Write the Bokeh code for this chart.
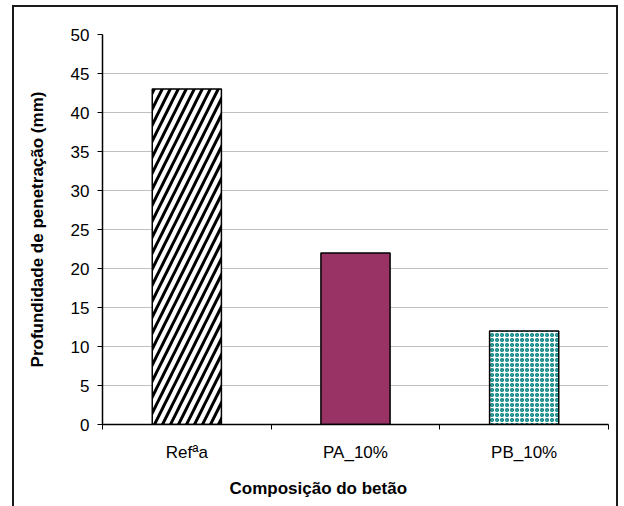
from bokeh.plotting import figure
from bokeh.models import FixedTicker, Range1d, Title
from bokeh.embed import file_html
from bokeh.resources import INLINE

# Penetration depth by concrete mix
categories = ["Refªa", "PA_10%", "PB_10%"]
depth_mm = [43, 22, 12]
y_ticks = [0, 5, 10, 15, 20, 25, 30, 35, 40, 45, 50]

FONT = "Liberation Sans"

p = figure(width=606, height=503, output_backend="svg", toolbar_location=None,
           x_range=Range1d(0, len(categories)), y_range=Range1d(0, 50),
           min_border_left=88, min_border_right=12, min_border_top=27, min_border_bottom=85)
p.styles = {"margin-left": "12px", "margin-top": "5px", "border": "2px solid #1a1a1a"}
p.outline_line_color = None
p.background_fill_color = "white"

xs = [i + 0.5 for i in range(len(categories))]

# Ref: black diagonal stripes
p.vbar(x=xs[0:1], top=depth_mm[0:1], width=0.41, fill_color="white",
       line_color="black", line_width=1.5, hatch_pattern="/",
       hatch_color="black", hatch_scale=16, hatch_weight=3)
# PA: solid plum
p.vbar(x=xs[1:2], top=depth_mm[1:2], width=0.41, fill_color="#993366",
       line_color="black", line_width=1.5)
# PB: teal dotted texture
p.vbar(x=xs[2:3], top=depth_mm[2:3], width=0.41, fill_color="white",
       line_color="black", line_width=1.5, hatch_pattern="o",
       hatch_color="#008080", hatch_scale=5, hatch_weight=1.5)

# x axis: labels at category centres, tick marks at category boundaries
xt = FixedTicker(ticks=xs, minor_ticks=list(range(len(categories) + 1)))
p.xaxis.ticker = xt
p.xaxis.major_label_overrides = {x: c for x, c in zip(xs, categories)}
p.xaxis.major_tick_out = 0
p.xaxis.major_tick_in = 0
p.xaxis.minor_tick_out = 5
p.xaxis.minor_tick_in = 0
p.xaxis.minor_tick_line_color = "black"
p.xaxis.axis_line_color = "black"
p.xaxis.axis_line_width = 1.5
p.xaxis.major_label_standoff = 13

p.yaxis.ticker = FixedTicker(ticks=y_ticks, minor_ticks=[])
p.yaxis.major_tick_out = 5
p.yaxis.major_tick_in = 0
p.yaxis.axis_line_color = "black"
p.yaxis.axis_line_width = 1.5
p.yaxis.major_tick_line_color = "black"
p.yaxis.major_label_standoff = 8
p.yaxis.axis_label = "Profundidade de penetração (mm)"
p.yaxis.axis_label_standoff = 21

for ax in (p.xaxis, p.yaxis):
    ax.major_label_text_font = FONT
    ax.major_label_text_font_size = "17px"
    ax.major_label_text_color = "black"
    ax.axis_label_text_font = FONT
    ax.axis_label_text_font_size = "17px"
    ax.axis_label_text_font_style = "bold"
    ax.axis_label_text_color = "black"

# x axis title below the tick labels
p.add_layout(Title(text="Composição do betão", align="left", offset=127, standoff=25,
                   text_font=FONT, text_font_size="17px", text_font_style="bold",
                   text_color="black"), "below")

p.xgrid.grid_line_color = None
p.ygrid.ticker = FixedTicker(ticks=y_ticks[1:-1])
p.ygrid.grid_line_color = "#c0c0c0"
p.ygrid.grid_line_width = 1

with open("out.html", "w") as f:
    f.write(file_html(p, INLINE))
